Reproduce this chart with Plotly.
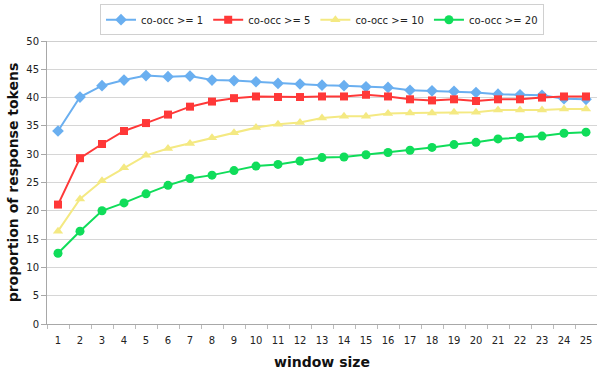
import plotly.graph_objects as go

window = list(range(1, 26))
occ1 = [34.1, 40.1, 42.1, 43.1, 43.9, 43.7, 43.8, 43.1, 43.0, 42.8, 42.5, 42.4, 42.2,
        42.1, 41.9, 41.8, 41.3, 41.2, 41.1, 40.9, 40.6, 40.5, 40.4, 39.8, 39.7]
occ5 = [21.1, 29.3, 31.8, 34.1, 35.5, 37.0, 38.4, 39.3, 39.9, 40.2, 40.1, 40.1, 40.2,
        40.2, 40.5, 40.2, 39.7, 39.5, 39.7, 39.4, 39.7, 39.7, 40.0, 40.2, 40.2]
occ10 = [16.4, 22.1, 25.3, 27.6, 29.8, 31.0, 31.9, 32.9, 33.8, 34.7, 35.3, 35.6, 36.4,
         36.7, 36.7, 37.2, 37.3, 37.3, 37.4, 37.4, 37.8, 37.8, 37.8, 38.0, 38.0]
occ20 = [12.5, 16.4, 20.0, 21.4, 23.0, 24.5, 25.7, 26.3, 27.1, 27.9, 28.2, 28.8, 29.4,
         29.5, 29.9, 30.3, 30.7, 31.2, 31.7, 32.1, 32.7, 33.0, 33.2, 33.7, 33.9]

series = [
    ("co-occ >= 1", occ1, "#6aaff0", "diamond", 9),
    ("co-occ >= 5", occ5, "#ff3838", "square", 8),
    ("co-occ >= 10", occ10, "#f4e982", "triangle-up", 9),
    ("co-occ >= 20", occ20, "#10dd5a", "circle", 9),
]

fig = go.Figure()
for name, vals, color, sym, size in series:
    fig.add_trace(go.Scatter(
        x=window, y=vals, name=name, mode="lines+markers",
        line=dict(color=color, width=2),
        marker=dict(symbol=sym, size=size, color=color),
    ))

font = "DejaVu Sans, Verdana, sans-serif"
fig.update_layout(
    width=597, height=374,
    margin=dict(l=47, r=0, t=41, b=50, autoexpand=False),
    paper_bgcolor="white", plot_bgcolor="white",
    font=dict(family=font, size=10, color="#222"),
    showlegend=True,
    legend=dict(
        orientation="h", x=0.5, xanchor="center", y=1.13, yanchor="top",
        bordercolor="#d0d0d0", borderwidth=1, font=dict(size=10),
        itemwidth=30, tracegroupgap=0,
    ),
    xaxis=dict(
        range=[0.5, 25.5], tickvals=window, ticktext=[str(w) for w in window],
        showgrid=False, zeroline=False, showline=True, linecolor="#a8a8a8", linewidth=1,
        ticks="", ticklen=0, automargin=False, ticklabelstandoff=7,
        minor=dict(tickvals=[w + 0.5 for w in range(0, 26)], ticks="outside",
                   ticklen=4, tickcolor="#bbbbbb"),
        title=dict(text="<b>window size</b>", font=dict(size=14, color="#111"), standoff=12),
        tickfont=dict(size=10),
    ),
    yaxis=dict(
        range=[0, 50], dtick=5, tick0=0,
        showgrid=True, gridcolor="#d6d6d6", gridwidth=1,
        zeroline=False, showline=True, linecolor="#a8a8a8", linewidth=1,
        ticks="outside", ticklen=5, tickcolor="#a8a8a8", automargin=False,
        title=dict(text="<b>proportion of response tokens</b>", font=dict(size=14, color="#111"), standoff=4),
        tickfont=dict(size=10),
    ),
)
fig.add_shape(type="line", xref="paper", yref="y", x0=0, x1=1, y0=50, y1=50,
              line=dict(color="#a0a0a0", width=1), layer="below")

fig.write_html("out.html", config={"displayModeBar": False},
               post_script="document.body.style.margin='0';")
